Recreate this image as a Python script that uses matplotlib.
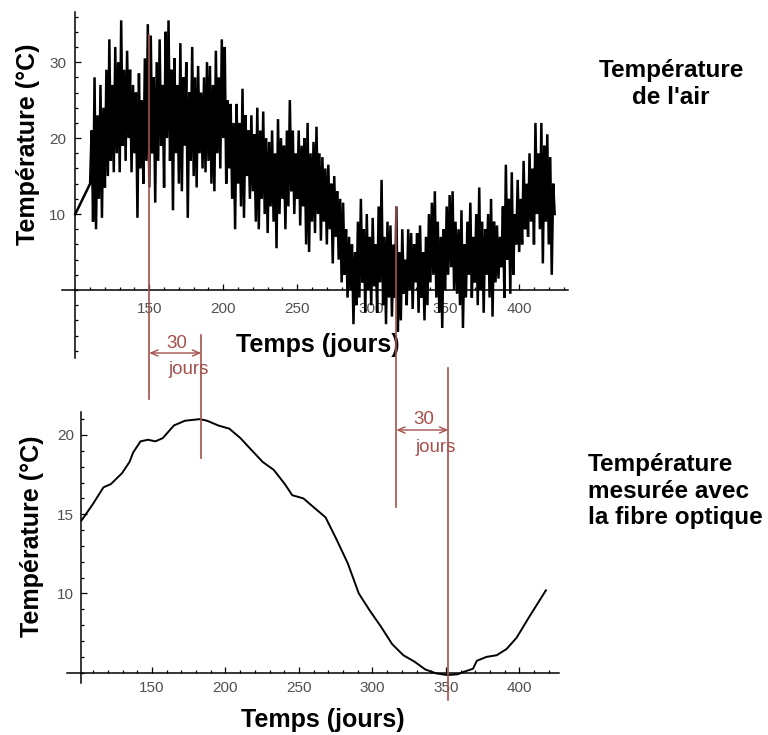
import numpy as np
import matplotlib.pyplot as plt
from matplotlib.lines import Line2D
from matplotlib.transforms import blended_transform_factory

W, H = 768, 735

# air temperature: first reading, then one value per day from day 110
# (alternating afternoon maximum / night minimum)
air_start = (100, 10.0)
air_temp = [
    14, 21, 9, 28, 8, 23, 12, 27, 9.5, 24,
    13.5, 29, 15, 33, 17, 27, 15.5, 32, 18, 30,
    15.5, 35.5, 19, 29, 17, 31.5, 20, 29, 15.5, 27,
    18, 26, 9.5, 28.5, 16, 25, 14, 30.5, 17, 35,
    13.5, 33.5, 18, 28, 11.5, 30, 17, 33, 19, 27,
    13.5, 34, 20, 35.5, 17, 29, 10.5, 30.5, 18, 27,
    14, 32.5, 13, 28, 19, 30, 9.5, 26, 17, 32,
    15, 28, 13.5, 29.5, 18, 26, 16, 28, 15.5, 30,
    17, 29.5, 14, 27, 13, 31.5, 18, 28, 16, 33,
    20, 32, 14, 25, 16, 24.5, 12, 22, 8, 24.5,
    14, 22, 11, 26.5, 9.5, 23, 15, 21, 12, 23,
    13, 20.5, 9, 24, 8, 21, 12, 23.5, 10, 20,
    7.5, 19.5, 11, 21, 9, 18, 5.5, 22.5, 10, 20,
    12, 19, 8, 21, 11, 25, 13, 21, 10, 18,
    12, 21, 8.5, 19, 11, 20, 6, 22, 5, 18,
    9, 19.5, 7.5, 21.5, 10, 18, 6.5, 17.5, 9, 16,
    6, 16.5, 8, 14, 3.5, 15, 7, 13, 4, 12,
    1, 11.5, 2, 8, -1, 7, 0, 6, -4.5, 5,
    -2, 9, -1, 12, 1, 8, -3, 10, 0, 7,
    -2, 9.5, 0.5, 6, -3, 11, 1, 14.5, -2, 7,
    -4.5, 9, -1, 8.5, -3.5, 6, -1, 11, -5.5, 5,
    -4, 8, -0.5, 4, -2, 8, 0, 7.5, -2.5, 6,
    1, 7.5, -3, 8.5, -1, 5, -4, 7, -2, 10,
    1, 11.5, 2, 13, -1, 9, -3, 7, -5, 8,
    0, 11, 2, 12.5, 3, 13, 0, 9, -0.5, 8,
    -2, 10.5, -5, 6, -1, 9, 2, 11.5, -1, 7,
    1, 10, -2, 13.5, 0, 9, -3, 8, 2, 10,
    -1, 12, -3.5, 9, 1, 8.5, 1.5, 7, 3, 11,
    -1, 16.5, 4, 12, -0.5, 15.5, 2, 10, 6, 14.5,
    5, 12, 6, 17, 8, 14, 7, 18, 9, 16,
    6, 22, 10, 18, 8, 22, 3.5, 19, 9, 20.5,
    6, 17.5, 2, 14, 10,
]

# temperature seen by the optical fibre
fibre_days = [102, 109.5, 117, 122, 129.7, 134.7, 137.2, 142.2, 147.3, 152.3,
              157.3, 164.9, 172.4, 182.5, 187.5, 195.1, 202.6, 210.2, 217.7, 225.3,
              232.8, 240.4, 245.4, 253, 260.5, 268.1, 275.6, 283.2, 290.7, 298.3,
              305.8, 313.4, 321, 328.5, 336, 343.6, 351, 358, 362, 368.4,
              371, 377.7, 384.5, 391.3, 398, 406.5, 418]
fibre_temp = [14.6, 15.6, 16.7, 16.9, 17.6, 18.3, 18.9, 19.6, 19.7, 19.6,
              19.8, 20.6, 20.9, 21.0, 20.9, 20.6, 20.4, 19.8, 19.05, 18.3,
              17.8, 16.9, 16.2, 16.0, 15.4, 14.8, 13.4, 11.9, 10.0, 8.9,
              7.9, 6.8, 6.1, 5.7, 5.2, 4.95, 4.85, 4.9, 5.05, 5.25,
              5.75, 6.0, 6.1, 6.5, 7.2, 8.5, 10.2]

top_xticks = [150, 200, 250, 300, 350, 400]
top_yticks = [10, 20, 30]
bot_xticks = [150, 200, 250, 300, 350, 400]
bot_yticks = [10, 15, 20]

# lag markers: day, top and bottom of the guide (pixels from top)
guide_lines = [(150, 35, 399), (185, 335, 458), (317, 207, 507), (352, 368, 700)]
lag_pairs = [(150, 185, 353), (317, 352, 430)]
lag_label = "30"

RED = "#a4504c"
GREY = "#505050"

air_days = np.concatenate(([air_start[0]], np.arange(110, 110 + len(air_temp))))
air_vals = np.concatenate(([air_start[1]], air_temp))

plt.rcParams["font.family"] = ["Liberation Sans", "DejaVu Sans"]

fig = plt.figure(figsize=(W / 100, H / 100), dpi=100)


def box(left, top, right, bottom):
    return [left / W, 1 - bottom / H, (right - left) / W, (bottom - top) / H]


def fy(py):
    return 1 - py / H


def style_axes(ax, x0, y0, xticks, yticks, xminor, yminor, xpad, ypad):
    for s in ("top", "right"):
        ax.spines[s].set_visible(False)
    ax.spines["left"].set_position(("data", x0))
    ax.spines["bottom"].set_position(("data", y0))
    for s in ("left", "bottom"):
        ax.spines[s].set_linewidth(1.1)
    ax.set_xticks(xticks)
    ax.set_yticks(yticks)
    ax.set_xticks(xminor, minor=True)
    ax.set_yticks(yminor, minor=True)
    ax.tick_params(which="both", direction="in", width=0.9, colors="black",
                   labelcolor=GREY, labelsize=11)
    ax.tick_params(which="major", length=4)
    ax.tick_params(which="minor", length=2.5)
    ax.tick_params(axis="x", pad=xpad)
    ax.tick_params(axis="y", pad=ypad)
    ax.patch.set_visible(False)


# air temperature
ax1 = fig.add_axes(box(62, 12, 568, 358))
ax1.plot(air_days, air_vals, color="black", lw=1.8, solid_joinstyle="miter")
ax1.set_xlim(91, 433)
ax1.set_ylim(-8.95, 36.6)
style_axes(ax1, 100, 0, top_xticks, top_yticks,
           np.arange(110, 431, 10), np.arange(-8, 37, 2), 8.5, 6.5)

# fibre temperature
ax2 = fig.add_axes(box(66.6, 411.7, 559, 683.3))
ax2.plot(fibre_days, fibre_temp, color="black", lw=1.4)
ax2.set_xlim(91.9, 426.9)
ax2.set_ylim(4.33, 21.47)
style_axes(ax2, 102, 5, bot_xticks, bot_yticks,
           np.arange(110, 421, 10), np.arange(5, 22, 1), 6, 5.5)

# axis titles
lab = dict(fontsize=18, fontweight="bold", color="black")
fig.text(28 / W, fy(144), "Température (°C)", rotation=90, ha="center", va="center", **lab)
fig.text(32 / W, fy(536), "Température (°C)", rotation=90, ha="center", va="center", **lab)
fig.text(318 / W, fy(345), "Temps (jours)", ha="center", va="center", **lab)
fig.text(323 / W, fy(720), "Temps (jours)", ha="center", va="center", **lab)

# side captions
cap = dict(fontsize=17.5, fontweight="bold", color="black", linespacing=1.2)
fig.text(671 / W, fy(84), "Température\nde l'air", ha="center", va="center",
         multialignment="center", **cap)
fig.text(588 / W, fy(491), "Température\nmesurée avec\nla fibre optique",
         ha="left", va="center", multialignment="left", **cap)

# lag guides and arrows
tr = blended_transform_factory(ax1.transData, fig.transFigure)
for day, ytop, ybot in guide_lines:
    fig.add_artist(Line2D([day, day], [fy(ytop), fy(ybot)], transform=tr,
                          color=RED, lw=1.2, zorder=5))

for d0, d1, yrow in lag_pairs:
    ax1.annotate("", xy=(d0, fy(yrow)), xytext=(d1, fy(yrow)), xycoords=tr, textcoords=tr,
                 arrowprops=dict(arrowstyle="<->,head_length=0.5,head_width=0.22",
                                 color=RED, lw=1.0, shrinkA=0, shrinkB=0),
                 annotation_clip=False)
    mid = (d0 + d1) / 2
    fig.text(mid + 1, fy(yrow - 10), lag_label, transform=tr, ha="center", va="center",
             fontsize=13.5, color=RED)
    fig.text(mid + 9, fy(yrow + 17), "jours", transform=tr, ha="center", va="center",
             fontsize=13.5, color=RED)

fig.savefig("out.png", dpi=100)
